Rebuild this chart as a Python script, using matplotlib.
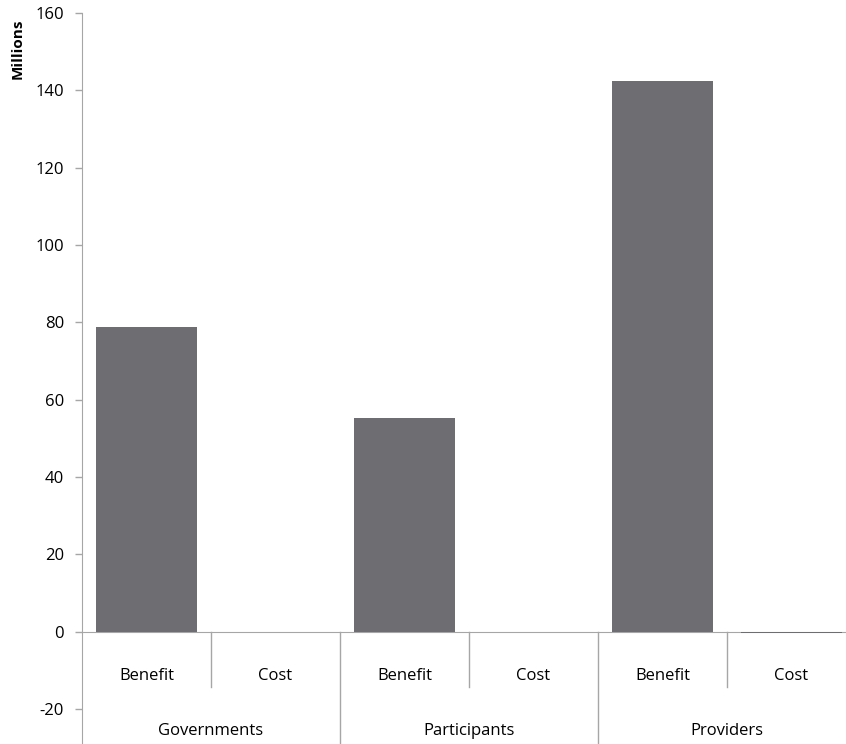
import matplotlib
matplotlib.use("Agg")
import matplotlib.pyplot as plt

# values (millions)
groups = ["Governments", "Participants", "Providers"]
kinds = ["Benefit", "Cost"]
values = [78.8, 0.0, 55.3, 0.0, 142.4, -0.4]
yticks = [-20, 0, 20, 40, 60, 80, 100, 120, 140, 160]

bar_color = "#6e6d72"
axis_color = "#a6a6a6"

plt.rcParams["font.family"] = ["Open Sans", "DejaVu Sans"]

fig = plt.figure(figsize=(8.46, 7.44), dpi=100)
ax = fig.add_axes([82 / 846, 1 / 744, 774 / 846, 730 / 744])

x = list(range(len(values)))
ax.bar(x, values, width=0.78, color=bar_color, zorder=3)

ax.set_xlim(-0.5, 5.5)
ax.set_ylim(-28.8, 160)
ax.set_yticks(yticks)
ax.set_yticklabels([str(t) for t in yticks], fontsize=12, color="black")
ax.tick_params(axis="y", length=5, width=1, color=axis_color, pad=8)
ax.tick_params(axis="x", bottom=False, labelbottom=False)

for s in ["top", "right"]:
    ax.spines[s].set_visible(False)
ax.spines["left"].set_color(axis_color)
ax.spines["bottom"].set_color(axis_color)
ax.spines["bottom"].set_position(("data", 0))

# multi-level category labels
for i, v in enumerate(values):
    ax.text(i, -11.6, kinds[i % 2], ha="center", va="center", fontsize=12)
for g, name in enumerate(groups):
    ax.text(2 * g + 0.5, -25.8, name, ha="center", va="center", fontsize=12)
    # separator between Benefit and Cost
    ax.plot([2 * g + 0.5, 2 * g + 0.5], [0, -14.2], color=axis_color, lw=1, clip_on=False)
    if g > 0:
        ax.plot([2 * g - 0.5, 2 * g - 0.5], [0, -28.8], color=axis_color, lw=1, clip_on=False)

fig.text(18 / 846, 1 - 49 / 744, "Millions", rotation=90, ha="center", va="center",
         fontsize=11, fontweight="bold")

fig.savefig("out.png", dpi=100)
